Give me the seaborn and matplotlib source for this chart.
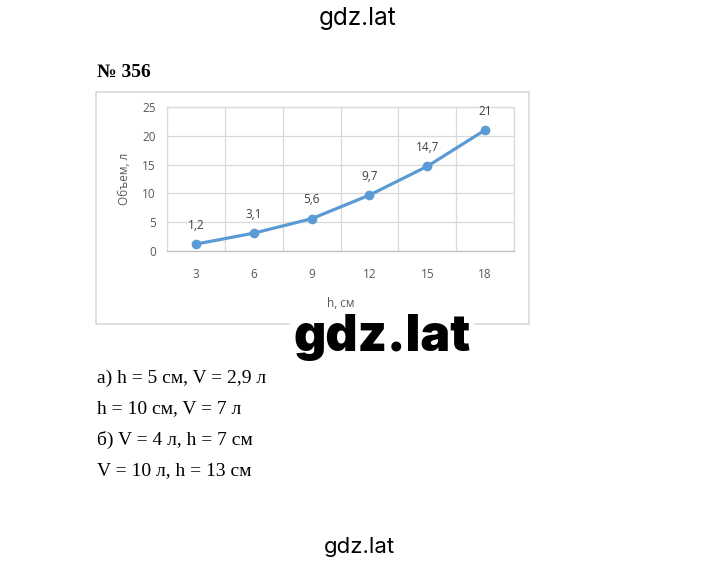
import matplotlib
matplotlib.use("Agg")
import matplotlib.pyplot as plt
import seaborn as sns
import numpy as np
from matplotlib.patches import Rectangle

h_values = [3, 6, 9, 12, 15, 18]
v_values = [1.2, 3.1, 5.6, 9.7, 14.7, 21]
v_labels = ["1,2", "3,1", "5,6", "9,7", "14,7", "21"]
y_ticks = [0, 5, 10, 15, 20, 25]
answer_lines = ["а) h = 5 см, V = 2,9 л",
                "h = 10 см, V = 7 л",
                "б) V = 4 л, h = 7 см",
                "V = 10 л, h = 13 см"]

sns.set_style("white")
plt.rcParams['font.family'] = ['Open Sans', 'DejaVu Sans']

W, H = 720, 561
fig = plt.figure(figsize=(W / 100, H / 100), dpi=100)
fig.patch.set_facecolor("white")

def fx(px):
    return px / W

def fy(py):
    return 1 - py / H

# outer chart frame
fig.patches.append(Rectangle((fx(96), fy(324)), fx(529) - fx(96), fy(92) - fy(324),
                             transform=fig.transFigure, fill=False,
                             edgecolor="#d9d9d9", linewidth=1.2))

ax = fig.add_axes([fx(167), fy(251), fx(514) - fx(167), fy(107) - fy(251)])
pos = np.arange(len(h_values))
sns.lineplot(x=pos, y=v_values, ax=ax, color="#5b9bd5", linewidth=2.3,
             marker="o", markersize=7, markeredgewidth=0, zorder=3)

ax.set_xlim(-0.5, len(h_values) - 0.5)
ax.set_ylim(0, 25)
ax.set_yticks(y_ticks)
ax.set_xticks(pos)
ax.set_xticklabels([str(v) for v in h_values])
ax.set_xticks(np.arange(-0.5, len(h_values), 1), minor=True)
ax.grid(False)
ax.grid(axis="y", which="major", color="#d9d9d9", linewidth=0.9)
ax.grid(axis="x", which="minor", color="#d9d9d9", linewidth=0.9)
ax.tick_params(axis="both", which="both", length=0, labelsize=8.5,
               labelcolor="#595959")
ax.tick_params(axis="x", pad=12)
ax.tick_params(axis="y", pad=8)
for side, sp in ax.spines.items():
    sp.set_color("#d9d9d9")
    sp.set_linewidth(0.9)
ax.spines["bottom"].set_color("#bfbfbf")

for xp, yv, lab in zip(pos, v_values, v_labels):
    ax.annotate(lab, (xp, yv), xytext=(0, 9), textcoords="offset points",
                ha="center", va="bottom", fontsize=8.5, color="#404040")

ax.set_xlabel("h, см", fontsize=8.5, color="#595959", labelpad=12)
ax.set_ylabel("Объем, л", fontsize=8.5, color="#595959", labelpad=8)

serif = ['Liberation Serif', 'DejaVu Serif']
fig.text(fx(97), fy(72), "№ 356", family=serif, fontsize=14, fontweight="bold",
         ha="left", va="center", color="black")
for i, line in enumerate(answer_lines):
    fig.text(fx(97), fy(378 + i * 31), line, family=serif, fontsize=14,
             ha="left", va="center", color="black")

wm = ['Inter', 'DejaVu Sans']
fig.text(fx(358), fy(25), "gdz.lat", family=wm, fontsize=17.5,
         ha="center", va="baseline", color="black")
fig.text(fx(359), fy(553), "gdz.lat", family=wm, fontsize=16,
         ha="center", va="baseline", color="black")
fig.text(fx(382), fy(351), "gdz.lat", family=wm, fontsize=36,
         fontweight=900, ha="center", va="baseline", color="black",
         bbox=dict(facecolor="white", edgecolor="none", pad=2))

fig.savefig("out.png", dpi=100)
